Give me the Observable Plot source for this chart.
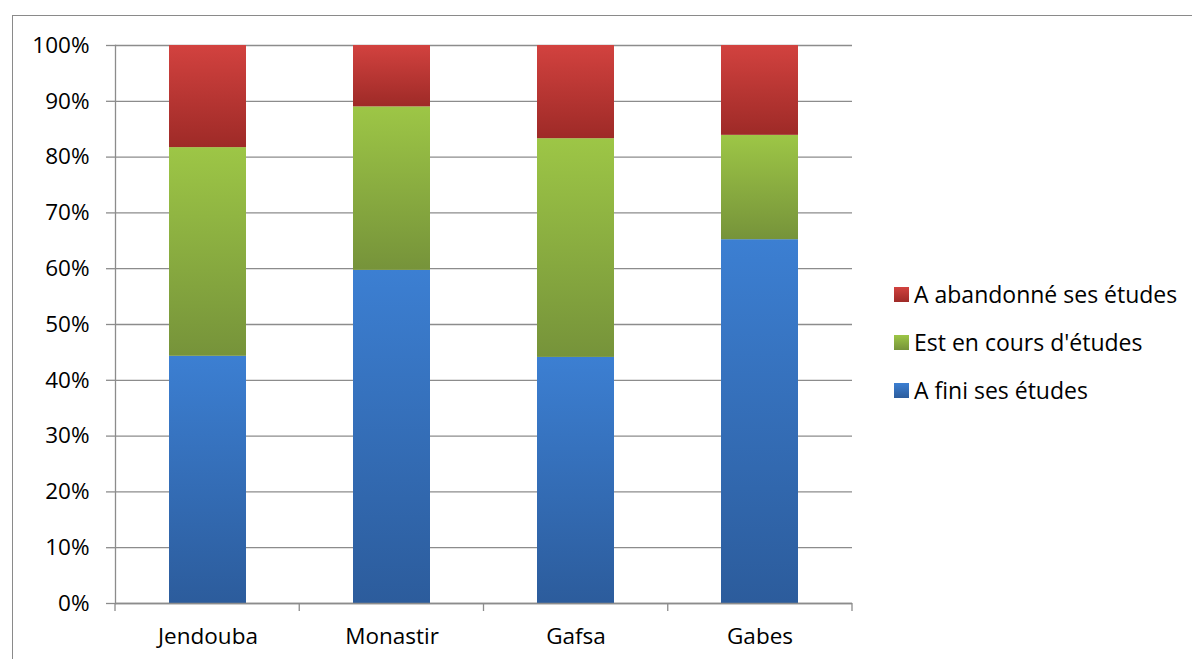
<!DOCTYPE html>
<html><head><meta charset="utf-8">
<script src="https://cdn.jsdelivr.net/npm/d3@7"></script>
<script src="https://cdn.jsdelivr.net/npm/@observablehq/plot@0.6"></script>
<style>
body{margin:0;background:#fff;font-family:"Open Sans",sans-serif;}
#wrap{position:relative;width:1192px;height:659px;overflow:hidden;background:#fff}
#frame{position:absolute;left:12px;top:15px;width:1300px;height:800px;border:1.5px solid #8a8a8a;box-sizing:border-box}
#chart{position:absolute;left:0;top:0}
#legend{position:absolute;left:894px;top:270px;}
.item{display:flex;align-items:center;height:48px;font-size:23px;color:#000;white-space:nowrap}
.sw{width:15px;height:15px;margin-right:5px}
</style></head><body><div id="wrap"><div id="frame"></div><div id="chart"></div><div id="legend"></div></div>
<script>
const categories = ["Jendouba", "Monastir", "Gafsa", "Gabes"];
const series = ["A fini ses études", "Est en cours d'études", "A abandonné ses études"];
const finished = [0.443, 0.597, 0.441, 0.652];
const inProgress = [0.374, 0.293, 0.392, 0.187];
const abandoned = [0.183, 0.110, 0.167, 0.161];
const yTicks = [0, 0.1, 0.2, 0.3, 0.4, 0.5, 0.6, 0.7, 0.8, 0.9, 1];

const gradients = [
  {id: "gBlue", top: "#3c7fd2", bottom: "#2c5c9c"},
  {id: "gGreen", top: "#9dc646", bottom: "#76933a"},
  {id: "gRed", top: "#d2423f", bottom: "#9e2a27"}
];

const valuesBySeries = [finished, inProgress, abandoned];
const data = [];
categories.forEach((c, i) => {
  series.forEach((s, j) => data.push({category: c, series: s, value: valuesBySeries[j][i]}));
});

const W = 1192, H = 659;
const mL = 115, mR = 340, mT = 45, mB = 56;

function xBoundaryTicks(index, scales, values, dims) {
  const g = d3.create("svg:g");
  const step = (dims.width - dims.marginLeft - dims.marginRight) / categories.length;
  const y0 = dims.height - dims.marginBottom;
  d3.range(categories.length + 1).forEach(i => {
    const x = dims.marginLeft + i * step;
    g.append("line").attr("x1", x).attr("x2", x).attr("y1", y0).attr("y2", y0 + 8)
      .attr("stroke", "#8c8c8c").attr("stroke-width", 1.3);
  });
  return g.node();
}

const svg = Plot.plot({
  width: W, height: H,
  marginLeft: mL, marginRight: mR, marginTop: mT, marginBottom: mB,
  style: {fontFamily: "'Open Sans', sans-serif", fontSize: "22.5px", color: "#000", background: "transparent"},
  x: {domain: categories, paddingInner: 0.58, paddingOuter: 0.29, label: null},
  y: {domain: [0, 1], label: null},
  color: {domain: series, range: gradients.map(g => `url(#${g.id})`)},
  marks: [
    Plot.gridY(yTicks, {stroke: "#8c8c8c", strokeOpacity: 1, strokeWidth: 1.3}),
    Plot.barY(data, {x: "category", y: "value", fill: "series"}),
    Plot.ruleY([0], {stroke: "#8c8c8c", strokeWidth: 1.3}),
    Plot.frame({anchor: "left", stroke: "#8c8c8c", strokeWidth: 1.3}),
    Plot.axisY({ticks: yTicks, tickFormat: d3.format(".0%"), tickSize: 9, tickPadding: 17, stroke: "#8c8c8c", strokeWidth: 1.3, label: null, fill: "#000"}),
    Plot.axisX({tickSize: 0, tickPadding: 25, label: null, fill: "#000"}),
    xBoundaryTicks
  ]
});

const defs = d3.select(svg).insert("defs", ":first-child");
gradients.forEach(g => {
  const lg = defs.append("linearGradient").attr("id", g.id).attr("x1", 0).attr("y1", 0).attr("x2", 0).attr("y2", 1);
  lg.append("stop").attr("offset", "0%").attr("stop-color", g.top);
  lg.append("stop").attr("offset", "100%").attr("stop-color", g.bottom);
});
document.getElementById("chart").appendChild(svg);

const legend = d3.select("#legend");
[2, 1, 0].forEach(j => {
  const it = legend.append("div").attr("class", "item");
  it.append("div").attr("class", "sw").style("background", `linear-gradient(${gradients[j].top}, ${gradients[j].bottom})`);
  it.append("span").text(series[j]);
});
</script></body></html>
